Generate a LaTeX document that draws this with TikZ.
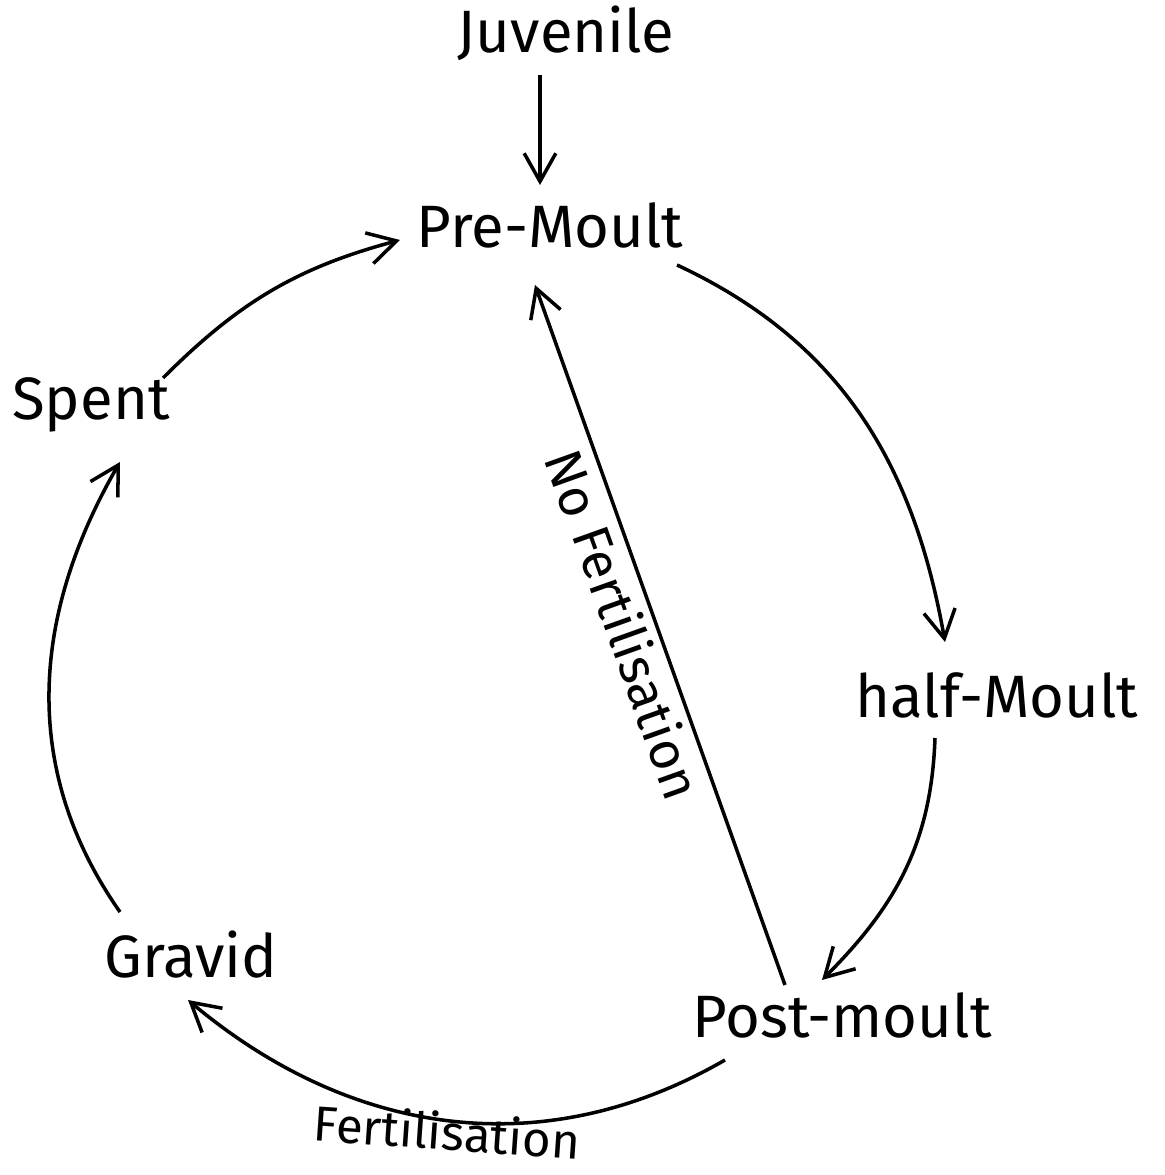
\documentclass[tikz,border=0pt]{standalone}
\usepackage{fontspec}
\setmainfont{Fira Sans}
\usetikzlibrary{arrows.meta, positioning, calc}
\tikzset{
    stage/.style={inner sep=0pt, font=\fontsize{17}{20}\selectfont},
    edgelbl/.style={inner sep=2pt, font=\fontsize{15}{18}\selectfont},
    arrow/.style={line width=1pt, -{Straight Barb[length=8pt, width=9pt, line width=1pt]}}
}
\begin{document}
\begin{tikzpicture}[x=0.01cm, y=0.01cm]
    \useasboundingbox (0,0) rectangle (1165,1175);
    % moult stages
    \node (premoult) [stage] at (550,950) {Pre-Moult};
    \node (juvenile) [stage] at (566,1142) {Juvenile};
    \node (halfmoult) [stage] at (997,480) {half-Moult};
    \node (postmoult) [stage] at (842,160) {Post-moult};
    \node (gravid) [stage] at (191,220) {Gravid};
    \node (spent) [stage] at (91,770) {Spent};

    % cycle
    \draw [arrow] ($(juvenile)+(-26,-42)$) -- ($(premoult)+(-10,40)$);
    \draw [arrow] ($(premoult)+(127,-40)$) to[out=-25, in=100] ($(halfmoult)+(-52,53)$);
    \draw [arrow] ($(halfmoult)+(-62,-43)$) to[out=-92, in=45] ($(postmoult)+(-20,35)$);
    \draw [arrow] ($(postmoult)+(-117,-45)$) to[out=-150, in=-40]
        node[edgelbl, inner sep=0pt, font=\fontsize{14}{17}\selectfont, pos=0.5, below=-3pt, rotate=-4] {Fertilisation} ($(gravid)+(-3,-45)$);
    \draw [arrow] ($(gravid)+(-71,43)$) to[out=125, in=-120] ($(spent)+(29,-57)$);
    \draw [arrow] ($(spent)+(72,27)$) to[out=45, in=-165] ($(premoult)+(-150,-15)$);

    % back to pre-moult
    \draw [arrow] ($(postmoult)+(-57,30)$) -- node[edgelbl, pos=0.53, sloped, below] {No Fertilisation} ($(premoult)+(-15,-60)$);
\end{tikzpicture}
\end{document}
